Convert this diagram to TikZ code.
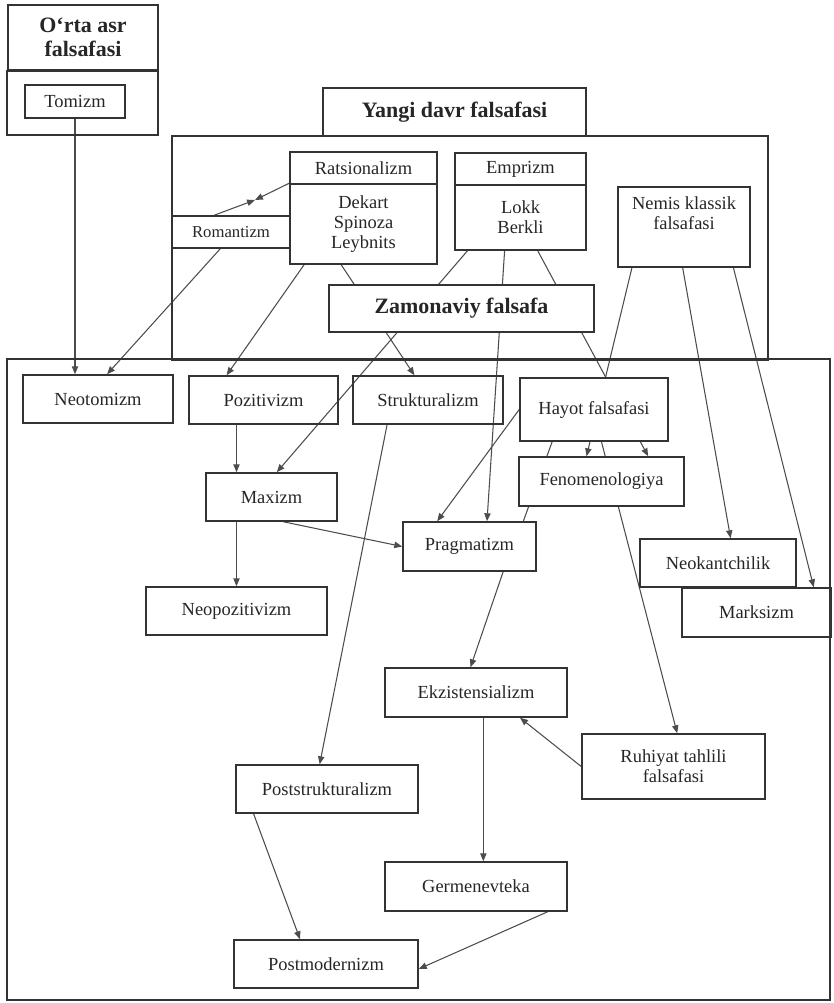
\documentclass[tikz,border=0pt]{standalone}
\usepackage{fontspec}
\setmainfont{Liberation Serif}
\usetikzlibrary{arrows.meta,calc}
\pgfdeclarelayer{background}
\pgfsetlayers{background,main}

\tikzset{
  boxtext/.style={align=center, inner sep=1pt, text=black!85,
    font=\fontsize{10.5}{11.5}\selectfont},
  box/.style={boxtext, draw=black!80, line width=0.9pt, rectangle},
  whitebox/.style={box, fill=white},
  headbox/.style={box, fill=white, font=\fontsize{12.5}{13.5}\selectfont\bfseries},
  frame/.style={draw=black!80, line width=0.9pt},
  link/.style={draw=black!70, line width=0.6pt},
  arr/.style={link, -{Triangle[length=4.5pt,width=3.6pt]}}
}

\begin{document}
\begin{tikzpicture}[x=0.02cm, y=-0.02cm]
\useasboundingbox (0,0) rectangle (833,1003);

% O'rta asr
\node[headbox, minimum width=3cm, minimum height=1.3cm] (orta) at (83,37.5) {O‘rta asr\\falsafasi};
\draw[frame] (orta.south west) rectangle (158,135);
\node[box, minimum width=2cm, minimum height=0.66cm] (tomizm) at (75,101.5) {Tomizm};

% Yangi davr
\draw[frame] (172,136) rectangle (768,360);
\node[headbox, minimum width=5.26cm, minimum height=0.96cm] (yangi) at (454.5,112) {Yangi davr falsafasi};
\node[box, minimum width=2.94cm, minimum height=0.64cm] (rat) at (363.5,168) {Ratsionalizm};
\node[box, minimum width=2.94cm, minimum height=1.6cm] (ratnames) at (363.5,224) {Dekart\\Spinoza\\Leybnits};
\node[box, minimum width=2.36cm, minimum height=0.64cm, font=\fontsize{9.5}{11}\selectfont] (romantizm) at (231,232) {Romantizm};
\node[box, minimum width=2.62cm, minimum height=0.64cm] (emp) at (520.5,169) {Emprizm};
\node[box, minimum width=2.62cm, minimum height=1.3cm] (empnames) at (520.5,217.5) {Lokk\\Berkli};
\node[box, minimum width=2.64cm, minimum height=1.6cm,
  label={[boxtext, anchor=north, yshift=-0.16cm]north:Nemis klassik\\falsafasi}] (nemis) at (684,227) {};
\node[headbox, minimum width=5.3cm, minimum height=0.94cm] (zamon) at (461.5,308.5) {Zamonaviy falsafa};

% Zamonaviy
\draw[frame] (7,359) rectangle (830,1000);
\node[box, minimum width=3cm, minimum height=0.96cm] (neotom) at (98,399) {Neotomizm};
\node[box, minimum width=2.98cm, minimum height=0.96cm] (pozit) at (263.5,400) {Pozitivizm};
\node[box, minimum width=3cm, minimum height=0.96cm] (strukt) at (428,400) {Strukturalizm};
\node[whitebox, minimum width=2.96cm, minimum height=1.26cm] (hayot) at (594,409.5) {Hayot falsafasi};
\node[whitebox, minimum width=3.3cm, minimum height=0.98cm] (fenom) at (601.5,481.5) {Fenomenologiya};
\node[box, minimum width=2.62cm, minimum height=0.96cm] (maxizm) at (271.5,497) {Maxizm};
\node[box, minimum width=2.66cm, minimum height=0.98cm] (prag) at (469.5,546.5) {Pragmatizm};
\node[box, minimum width=3.62cm, minimum height=0.96cm] (neopoz) at (236.5,611) {Neopozitivizm};
\node[box, minimum width=3.12cm, minimum height=0.96cm] (neokant) at (718,563) {Neokantchilik};
\node[box, minimum width=2.98cm, minimum height=0.98cm] (marks) at (756.5,612.5) {Marksizm};
\node[box, minimum width=3.64cm, minimum height=0.98cm] (ekzist) at (476,692.5) {Ekzistensializm};
\node[box, minimum width=3.66cm, minimum height=1.3cm] (ruhiyat) at (673.5,766.5) {Ruhiyat tahlili\\falsafasi};
\node[box, minimum width=3.64cm, minimum height=0.96cm] (poststr) at (327,789) {Poststrukturalizm};
\node[box, minimum width=3.64cm, minimum height=0.98cm] (germen) at (476,886.5) {Germenevteka};
\node[box, minimum width=3.68cm, minimum height=0.96cm] (postmod) at (326,964) {Postmodernizm};

\coordinate (romrat) at (255,200);
\coordinate (ek) at ($(ekzist.south west)!0.54!(ekzist.south east)$);

\begin{pgfonlayer}{background}
\draw[arr] (tomizm) -- (tomizm |- neotom.north);
\draw[arr] ($(romantizm.south west)!0.41!(romantizm.south east)$) -- ($(neotom.north west)!0.56!(neotom.north east)$);
\draw[arr] ($(romantizm.north west)!0.36!(romantizm.north east)$) -- (romrat);
\draw[arr] (ratnames.north west) -- (romrat);
\draw[arr] ($(ratnames.south west)!0.10!(ratnames.south east)$) -- ($(pozit.north west)!0.255!(pozit.north east)$);
\draw[arr] ($(ratnames.south west)!0.35!(ratnames.south east)$) -- ($(strukt.north west)!0.41!(strukt.north east)$);
\draw[arr] ($(empnames.south west)!0.10!(empnames.south east)$) -- ($(maxizm.north west)!0.54!(maxizm.north east)$);
\draw[arr] ($(empnames.south west)!0.38!(empnames.south east)$) -- ($(prag.north west)!0.63!(prag.north east)$);
\draw[arr] ($(empnames.south west)!0.63!(empnames.south east)$) -- ($(fenom.north west)!0.78!(fenom.north east)$);
\draw[arr] ($(nemis.south west)!0.11!(nemis.south east)$) -- ($(fenom.north west)!0.41!(fenom.north east)$);
\draw[arr] ($(nemis.south west)!0.49!(nemis.south east)$) -- ($(neokant.north west)!0.58!(neokant.north east)$);
\draw[arr] ($(nemis.south west)!0.87!(nemis.south east)$) -- ($(marks.north west)!0.88!(marks.north east)$);
\draw[arr] (pozit.south -| neopoz.north) -- (maxizm.north -| neopoz.north);
\draw[arr] (maxizm.south -| neopoz.north) -- (neopoz.north);
\draw[arr] ($(maxizm.south west)!0.59!(maxizm.south east)$) -- (prag.west);
\draw[arr] ($(strukt.south west)!0.23!(strukt.south east)$) -- ($(poststr.north west)!0.46!(poststr.north east)$);
\draw[arr] (hayot.west) -- ($(prag.north west)!0.26!(prag.north east)$);
\draw[link] ($(hayot.south west)!0.22!(hayot.south east)$) -- ($(prag.north west)!0.9!(prag.north east)$);
\draw[arr] ($(hayot.south west)!0.55!(hayot.south east)$) -- ($(ruhiyat.north west)!0.52!(ruhiyat.north east)$);
\draw[arr] ($(prag.south west)!0.75!(prag.south east)$) -- ($(ekzist.north west)!0.47!(ekzist.north east)$);
\draw[arr] (ruhiyat.west) -- ($(ekzist.south west)!0.74!(ekzist.south east)$);
\draw[arr] (ek) -- (ek |- germen.north);
\draw[arr] ($(germen.south west)!0.89!(germen.south east)$) -- ($(postmod.north east)!0.6!(postmod.south east)$);
\draw[arr] ($(poststr.south west)!0.10!(poststr.south east)$) -- ($(postmod.north west)!0.36!(postmod.north east)$);
\end{pgfonlayer}
\end{tikzpicture}
\end{document}
